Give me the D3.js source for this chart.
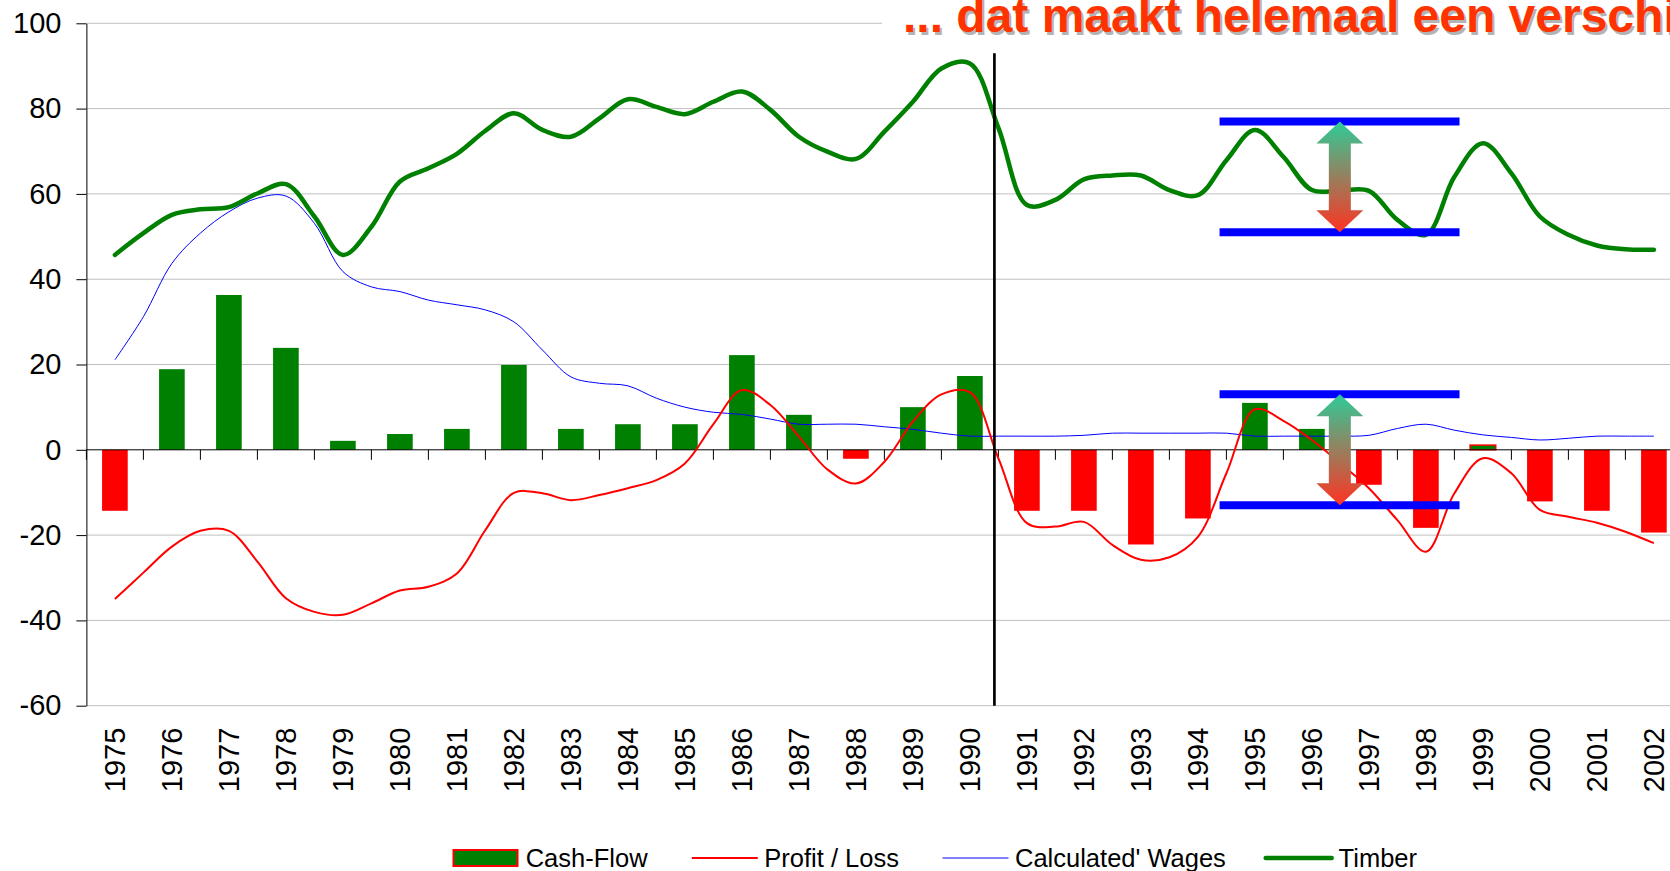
<!DOCTYPE html>
<html>
<head>
<meta charset="utf-8">
<script src="https://cdn.jsdelivr.net/npm/d3@7"></script>
<style>
  body { margin: 0; background: #fff; }
  svg { display: block; font-family: "Liberation Sans", Arial, sans-serif; }
</style>
</head>
<body>
<div id="chart"></div>
<script>
// Categories and bar values (Cash-Flow per year).
const years = [1975, 1976, 1977, 1978, 1979, 1980, 1981, 1982, 1983, 1984, 1985, 1986, 1987, 1988,
  1989, 1990, 1991, 1992, 1993, 1994, 1995, 1996, 1997, 1998, 1999, 2000, 2001, 2002];
const cashFlow = [-14.3, 18.9, 36.3, 23.9, 2.1, 3.7, 4.9, 19.9, 4.9, 6.0, 6.0, 22.2, 8.2, -2.1,
  10.0, 17.3, -14.3, -14.3, -22.2, -16.1, 11.0, 4.9, -8.2, -18.3, 1.1, -12.1, -14.3, -19.4];

// The lines are sampled every half year, 1975 .. 2002.
const halfYears = d3.range(1975, 2002.25, 0.5);
const profitLoss = [-35.0, -28.8, -22.7, -19.0, -19.0, -26.2, -34.8, -38.0, -38.7, -36.0,
  -33.0, -32.1, -29.0, -18.8, -10.1, -10.2, -11.8, -10.6, -9.0, -7.1,
  -3.2, 6.0, 14.0, 10.5, 3.1, -4.6, -7.9, -2.8, 6.6, 13.0,
  13.5, -2.0, -17.2, -18.0, -16.9, -22.3, -25.8, -25.2, -20.4, -5.5,
  9.5, 6.8, 2.3, -3.2, -9.0, -16.5, -23.9, -10.2, -2.0, -5.5,
  -14.1, -15.7, -17.1, -19.2, -21.9];
const wages = [21.1, 31.2, 43.7, 50.8, 55.8, 59.0, 59.5, 53.1, 41.8, 38.2,
  37.1, 35.1, 34.0, 32.8, 30.0, 23.4, 17.1, 15.6, 15.0, 12.1,
  10.0, 8.8, 8.3, 7.2, 6.0, 6.0, 6.0, 5.4, 4.8, 3.9,
  3.2, 3.2, 3.2, 3.2, 3.4, 3.9, 3.9, 3.9, 3.9, 3.9,
  3.2, 3.2, 3.2, 3.2, 3.4, 5.0, 6.0, 4.6, 3.5, 2.9,
  2.3, 2.7, 3.2, 3.2, 3.2];
const timber = [45.7, 50.8, 55.1, 56.4, 56.9, 60.1, 62.3, 54.7, 45.7, 52.3,
  62.9, 66.0, 69.4, 74.8, 78.9, 75.0, 73.4, 77.7, 82.2, 80.4,
  78.7, 81.6, 84.0, 79.7, 73.4, 69.9, 68.2, 74.6, 81.6, 89.4,
  90.6, 75.5, 57.4, 58.6, 63.4, 64.3, 64.3, 60.9, 59.7, 67.9,
  75.0, 68.7, 60.9, 60.8, 60.7, 53.9, 50.4, 64.0, 71.9, 64.8,
  54.7, 50.4, 47.9, 47.0, 46.9];

const yTicks = [-60, -40, -20, 0, 20, 40, 60, 80, 100];
const legendLabels = ['Cash-Flow', 'Profit / Loss', "Calculated' Wages", 'Timber'];
const title = '... dat maakt helemaal een verschil';

// Annotation: split year, range bands and arrows.
const splitYear = 1990.43;
const bandYears = [1994.38, 1998.59];
const arrowYear = 1996.49;
const bandLevels = [[77, 51], [13, -13]];

const width = 1670, height = 871;
const plotLeft = 86.4, plotTop = 23.3, plotBottom = 705.7, step = 57;

const svg = d3.select('#chart').append('svg')
  .attr('width', width)
  .attr('height', height);

const x = d3.scaleBand()
  .domain(years)
  .range([plotLeft, plotLeft + step * years.length])
  .paddingInner(0.55)
  .paddingOuter(0.275);
const bw = x.bandwidth();

const xt = d3.scaleLinear()
  .domain([1975, 2002])
  .range([x(1975) + bw / 2, x(2002) + bw / 2]);

const y = d3.scaleLinear()
  .domain([-60, 100])
  .range([plotBottom, plotTop]);

// Gridlines.
svg.append('g')
  .selectAll('line')
  .data(yTicks.filter(d => d !== 0))
  .join('line')
  .attr('x1', plotLeft)
  .attr('x2', width)
  .attr('y1', d => y(d))
  .attr('y2', d => y(d))
  .attr('stroke', '#c0c0c0')
  .attr('stroke-width', 1);

// Y axis (plain hyphen for negatives, like the original).
const yAxis = svg.append('g')
  .attr('transform', `translate(${plotLeft},0)`)
  .call(d3.axisLeft(y)
    .tickValues(yTicks)
    .tickFormat(d => String(d))
    .tickSize(10)
    .tickPadding(15)
    .tickSizeOuter(0));
yAxis.selectAll('text')
  .attr('font-size', 29)
  .attr('font-family', '"Liberation Sans", Arial, sans-serif')
  .attr('fill', '#000');
yAxis.selectAll('line, path').attr('stroke', '#000');

// Cash-Flow bars.
svg.append('g')
  .selectAll('rect')
  .data(years.map((d, i) => ({ year: d, v: cashFlow[i] })))
  .join('rect')
  .attr('x', d => x(d.year))
  .attr('width', bw)
  .attr('y', d => y(Math.max(0, d.v)))
  .attr('height', d => Math.abs(y(d.v) - y(0)))
  .attr('fill', d => d.v < 0 ? '#ff0000' : '#008000')
  .attr('stroke', d => (d.v > 0 && d.v < 2) ? '#ff0000' : 'none')
  .attr('stroke-width', 1.5);

// Category axis on the zero line, ticks on the category boundaries.
const boundaries = years.map(d => x(d) - (step - bw) / 2).concat([x(2002) + bw + (step - bw) / 2]);
svg.append('line')
  .attr('x1', plotLeft)
  .attr('x2', width)
  .attr('y1', y(0))
  .attr('y2', y(0))
  .attr('stroke', '#000');
svg.append('g')
  .selectAll('line')
  .data(boundaries)
  .join('line')
  .attr('x1', d => d)
  .attr('x2', d => d)
  .attr('y1', y(0))
  .attr('y2', y(0) + 10)
  .attr('stroke', '#000');

// Year labels below the plot.
svg.append('g')
  .selectAll('text')
  .data(years)
  .join('text')
  .attr('transform', d => `translate(${x(d) + bw / 2},${plotBottom + 22}) rotate(-90)`)
  .attr('text-anchor', 'end')
  .attr('dy', '0.36em')
  .attr('font-size', 29)
  .text(d => d);

// Lines.
const line = d3.line()
  .x((d, i) => xt(halfYears[i]))
  .y(d => y(d))
  .curve(d3.curveCatmullRom.alpha(0.5));

svg.append('path')
  .datum(wages)
  .attr('d', line)
  .attr('fill', 'none')
  .attr('stroke', '#0000ff')
  .attr('stroke-width', 1);

svg.append('path')
  .datum(profitLoss)
  .attr('d', line)
  .attr('fill', 'none')
  .attr('stroke', '#ff0000')
  .attr('stroke-width', 2);

svg.append('path')
  .datum(timber)
  .attr('d', line)
  .attr('fill', 'none')
  .attr('stroke', '#008000')
  .attr('stroke-width', 4.5)
  .attr('stroke-linejoin', 'round')
  .attr('stroke-linecap', 'round');

// Vertical divider.
svg.append('line')
  .attr('x1', xt(splitYear))
  .attr('x2', xt(splitYear))
  .attr('y1', y(93))
  .attr('y2', plotBottom)
  .attr('stroke', '#000')
  .attr('stroke-width', 2.7);

// Gradient for the double arrows.
const grad = svg.append('defs').append('linearGradient')
  .attr('id', 'arrowGrad')
  .attr('x1', 0).attr('y1', 0).attr('x2', 0).attr('y2', 1);
grad.append('stop').attr('offset', 0).attr('stop-color', '#2ecc99');
grad.append('stop').attr('offset', 1).attr('stop-color', '#ff3322');

// Blue range bands with arrows between them.
bandLevels.forEach(([hi, lo]) => {
  [hi, lo].forEach(v => {
    svg.append('line')
      .attr('x1', xt(bandYears[0]))
      .attr('x2', xt(bandYears[1]))
      .attr('y1', y(v))
      .attr('y2', y(v))
      .attr('stroke', '#0000ff')
      .attr('stroke-width', 8);
  });

  const cx = xt(arrowYear), y0 = y(hi), y1 = y(lo);
  const hw = 23.5, sw = 11, hl = 22;
  const pts = [
    [cx, y0], [cx + hw, y0 + hl], [cx + sw, y0 + hl], [cx + sw, y1 - hl], [cx + hw, y1 - hl],
    [cx, y1], [cx - hw, y1 - hl], [cx - sw, y1 - hl], [cx - sw, y0 + hl], [cx - hw, y0 + hl]
  ];
  svg.append('path')
    .attr('d', 'M' + pts.join('L') + 'Z')
    .attr('fill', 'url(#arrowGrad)');
});

// Title with a white box and a soft shadow (runs off the right edge, as in the original).
svg.append('rect')
  .attr('x', 882)
  .attr('y', 0)
  .attr('width', width - 882)
  .attr('height', 45)
  .attr('fill', '#fff');
svg.append('text')
  .attr('x', 905)
  .attr('y', 34.5)
  .attr('font-size', 48)
  .attr('font-weight', 'bold')
  .attr('fill', '#b4b4b4')
  .text(title);
svg.append('text')
  .attr('x', 903)
  .attr('y', 32)
  .attr('font-size', 48)
  .attr('font-weight', 'bold')
  .attr('fill', '#ff3300')
  .text(title);

// Legend.
const legendY = 858;
const legendItems = [
  { label: legendLabels[0], x: 452.5, text: 525.7 },
  { label: legendLabels[1], x: 691.8, text: 764.3, color: '#ff0000', w: 2 },
  { label: legendLabels[2], x: 942.5, text: 1015, color: '#0000ff', w: 1 },
  { label: legendLabels[3], x: 1265.7, text: 1338.6, color: '#008000', w: 4.5 }
];
const legend = svg.append('g');
legendItems.forEach((d, i) => {
  if (i === 0) {
    legend.append('rect')
      .attr('x', d.x + 1)
      .attr('y', legendY - 8)
      .attr('width', 64)
      .attr('height', 16)
      .attr('fill', '#008000')
      .attr('stroke', '#ff0000')
      .attr('stroke-width', 2);
  } else {
    legend.append('line')
      .attr('x1', d.x)
      .attr('x2', d.x + 66)
      .attr('y1', legendY)
      .attr('y2', legendY)
      .attr('stroke', d.color)
      .attr('stroke-width', d.w)
      .attr('stroke-linecap', i === 3 ? 'round' : 'butt');
  }
  legend.append('text')
    .attr('x', d.text)
    .attr('y', legendY)
    .attr('dy', '0.35em')
    .attr('font-size', 25.5)
    .text(d.label);
});
</script>
</body>
</html>
